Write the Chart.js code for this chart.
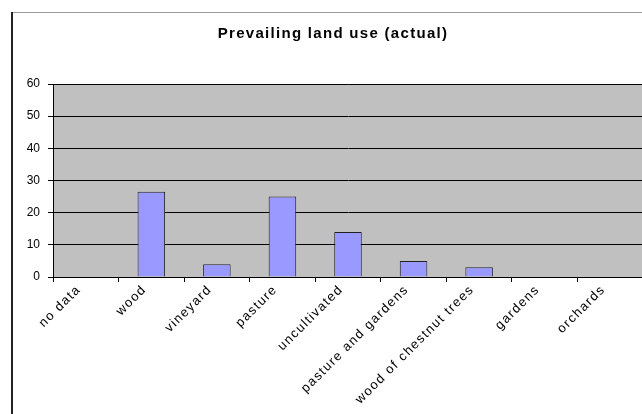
<!DOCTYPE html>
<html>
<head>
<meta charset="utf-8">
<script src="https://cdn.jsdelivr.net/npm/chart.js@4/dist/chart.umd.min.js"></script>
<style>
  html, body { margin: 0; padding: 0; background: #fff; overflow: hidden; width: 642px; height: 414px; }
  #wrap { position: absolute; left: 0; top: 0; width: 700px; height: 414px; }
</style>
</head>
<body>
<div id="wrap"><canvas id="c" width="700" height="414"></canvas></div>
<script>
const categories = ["no data", "wood", "vineyard", "pasture", "uncultivated", "pasture and gardens", "wood of chestnut trees", "gardens", "orchards"];
const values = [0, 26.5, 4, 25, 14, 5, 3, 0, 0];
const yTicks = [0, 10, 20, 30, 40, 50, 60];
const chartTitle = "Prevailing land use (actual)";

const FONT = 'Liberation Sans, Arial, sans-serif';

function wrapDraw(obj, method, ls, dx, dy) {
  if (!obj || obj['__w_' + method]) return;
  obj['__w_' + method] = true;
  const orig = obj[method];
  obj[method] = function (...args) {
    const ctx = this.ctx || this.chart.ctx;
    ctx.save();
    ctx.letterSpacing = ls;
    ctx.translate(dx, dy);
    orig.apply(this, args);
    ctx.restore();
  };
}

const frame = {
  id: 'frame',
  afterLayout(chart) {
    wrapDraw(chart.titleBlock, 'draw', '1.3px', 0, 0);
    wrapDraw(chart.scales.x, 'drawLabels', '1.4px', -7, -2);
  },
  beforeDraw(chart) {
    const ctx = chart.ctx, a = chart.chartArea;
    ctx.save();
    ctx.fillStyle = '#c0c0c0';
    ctx.fillRect(a.left, a.top, a.right - a.left, a.bottom - a.top);
    ctx.fillStyle = '#999';
    ctx.fillRect(12, 12, 700, 1);
    ctx.fillStyle = '#222';
    ctx.fillRect(11, 12, 2, 414);
    ctx.restore();
  }
};

new Chart(document.getElementById('c'), {
  type: 'bar',
  data: {
    labels: categories,
    datasets: [{
      data: values,
      backgroundColor: '#9999ff',
      borderColor: '#222',
      borderWidth: 1,
      barPercentage: 0.42,
      categoryPercentage: 1
    }]
  },
  plugins: [frame],
  options: {
    responsive: false,
    animation: false,
    layout: { padding: { left: 23, right: 57, top: 0, bottom: 0 } },
    plugins: {
      legend: { display: false },
      tooltip: { enabled: false },
      title: {
        display: true,
        text: chartTitle,
        color: '#000',
        font: { family: FONT, size: 15, weight: 'bold', lineHeight: 1.2 },
        padding: { top: 25, bottom: 41 }
      }
    },
    scales: {
      x: {
        offset: true,
        afterFit(s) { s.height = 137; },
        grid: { offset: true, drawOnChartArea: false, drawTicks: true, tickLength: 5, color: '#000' },
        border: { color: '#000', width: 1 },
        ticks: {
          color: '#000',
          minRotation: 45, maxRotation: 45,
          autoSkip: false,
          padding: 2,
          font: { family: FONT, size: 13 }
        }
      },
      y: {
        min: 0, max: 60,
        afterFit(s) { s.width = 30; },
        afterBuildTicks(s) { s.ticks = yTicks.map(v => ({ value: v })); },
        grid: { color: '#000', tickLength: 5, drawTicks: true },
        border: { color: '#000', width: 1 },
        ticks: {
          color: '#000',
          padding: 8,
          font: { family: FONT, size: 12 }
        }
      }
    }
  }
});
</script>
</body>
</html>
